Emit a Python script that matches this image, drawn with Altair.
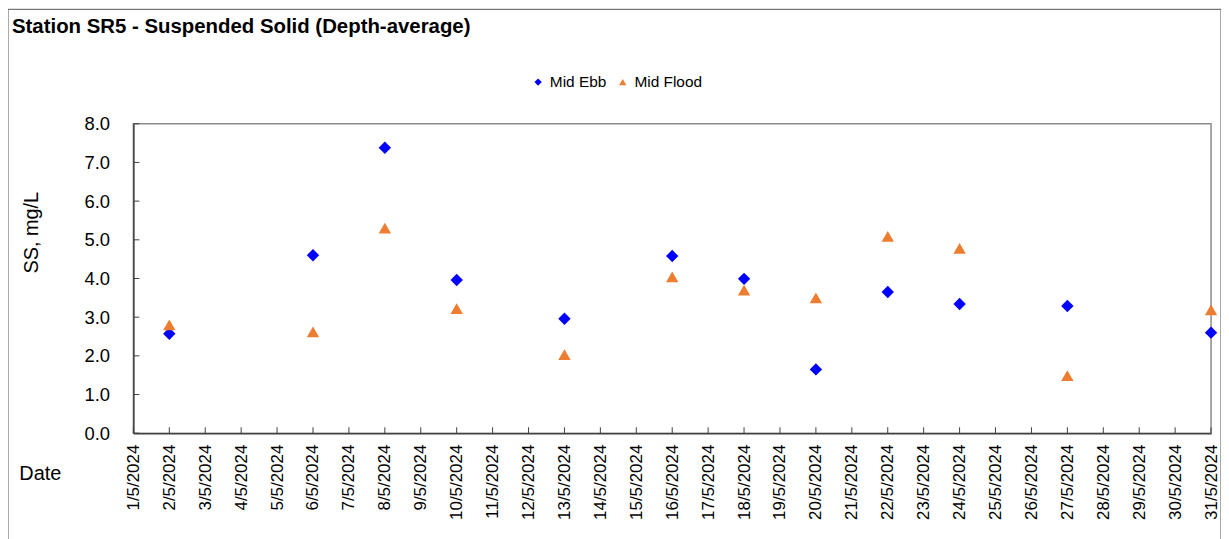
import altair as alt
import pandas as pd

# ---- data ----
dates = ["2024-05-02", "2024-05-06", "2024-05-08", "2024-05-10", "2024-05-13", "2024-05-16",
         "2024-05-18", "2024-05-20", "2024-05-22", "2024-05-24", "2024-05-27", "2024-05-31"]
mid_ebb = [2.57, 4.60, 7.38, 3.96, 2.96, 4.58, 3.99, 1.65, 3.65, 3.34, 3.29, 2.60]
mid_flood = [2.80, 2.62, 5.30, 3.22, 2.03, 4.04, 3.70, 3.50, 5.09, 4.78, 1.49, 3.19]
series = ["Mid Ebb", "Mid Flood"]
series_colors = ["#0000FF", "#ED7D31"]
series_shapes = ["diamond", "triangle-up"]
y_ticks = [0, 1, 2, 3, 4, 5, 6, 7, 8]
day_ticks = list(range(1, 32))

FONT = "Liberation Sans"
W, H = 1083, 311
PAD_L, PAD_T = 126, 115

df = pd.DataFrame(
    [{"date": d, "value": v, "series": "Mid Ebb"} for d, v in zip(dates, mid_ebb)]
    + [{"date": d, "value": v, "series": "Mid Flood"} for d, v in zip(dates, mid_flood)]
)

x_scale = alt.Scale(type="utc", domain=[alt.DateTime(year=2024, month=5, date=1, utc=True),
                                         alt.DateTime(year=2024, month=5, date=31, utc=True)])
y_scale = alt.Scale(domain=[0, 8], nice=False)
tick_values = [alt.DateTime(year=2024, month=5, date=d, utc=True) for d in day_ticks]

x_axis = alt.Axis(values=tick_values, format="%-d/%-m/%Y", labelAngle=270,
                  labelFontSize=17, labelPadding=11, ticks=False, grid=False,
                  labelOverlap=False, labelFlush=False, labelColor="#000",
                  domainColor="#404040", domainWidth=1.5,
                  title="Date", titleFontSize=20, titleFontWeight="normal",
                  titleX=-94, titleY=41, titleAlign="center", titleBaseline="middle",
                  titleColor="#000")
y_axis = alt.Axis(values=y_ticks, format=".1f", labelFontSize=18.5, labelPadding=24,
                  ticks=False, grid=False, labelColor="#000", labelOverlap=False,
                  domainColor="#404040", domainWidth=1.5,
                  title="SS, mg/L", titleFontSize=20, titleFontWeight="normal",
                  titleAngle=270, titleX=-102, titleY=109, titleAlign="center",
                  titleBaseline="middle", titleColor="#000")

points = alt.Chart(df).mark_point(filled=True, size=155, opacity=1).encode(
    x=alt.X("date:T", scale=x_scale, axis=x_axis),
    y=alt.Y("value:Q", scale=y_scale, axis=y_axis),
    color=alt.Color("series:N", scale=alt.Scale(domain=series, range=series_colors),
                    legend=alt.Legend(title=None, orient="none", direction="horizontal",
                                      legendX=399, legendY=-50, labelFontSize=15.5,
                                      symbolSize=55, columnPadding=8, labelColor="#000",
                                      symbolStrokeWidth=0)),
    shape=alt.Shape("series:N", scale=alt.Scale(domain=series, range=series_shapes)),
)

ytick_df = pd.DataFrame({"v": y_ticks})
yticks = alt.Chart(ytick_df).mark_rule(color="#404040", strokeWidth=1).encode(
    y=alt.Y("v:Q", scale=y_scale, axis=y_axis), x=alt.value(0), x2=alt.value(6))

xtick_df = pd.DataFrame({"d": [f"2024-05-{d:02d}" for d in day_ticks]})
xticks = alt.Chart(xtick_df).mark_rule(color="#404040", strokeWidth=1).encode(
    x=alt.X("d:T", scale=x_scale, axis=x_axis), y=alt.value(H), y2=alt.value(H - 6))

frame = alt.Chart(alt.Data(values=[{}])).mark_rect(
    fill=None, stroke="#555", strokeWidth=1).encode(
    x=alt.value(-PAD_L), x2=alt.value(1219 - PAD_L),
    y=alt.value(-PAD_T), y2=alt.value(440))

chart = alt.layer(points, yticks, xticks, frame).properties(
    width=W, height=H,
    title=alt.TitleParams("Station SR5 - Suspended Solid (Depth-average)", anchor="start",
                          frame="group", fontSize=20.5, fontWeight="bold", font=FONT,
                          color="#000", offset=0, dx=-122, dy=29),
    padding={"left": PAD_L, "top": PAD_T, "right": 10, "bottom": 110},
    autosize=alt.AutoSizeParams(type="none"),
).configure(font=FONT).configure_view(stroke="#8c8c8c", strokeWidth=1.5
).configure_axis(labelFont=FONT, titleFont=FONT).configure_legend(labelFont=FONT)

chart.save("out.html", embed_options={"renderer": "svg", "actions": False})
